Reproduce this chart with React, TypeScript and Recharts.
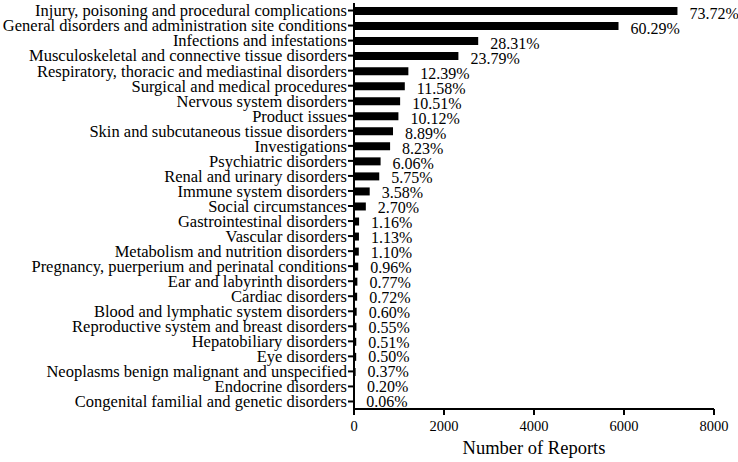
import React from "react";
import { Bar, BarChart, LabelList, XAxis, YAxis } from "recharts";

const categories = [
  "Injury, poisoning and procedural complications",
  "General disorders and administration site conditions",
  "Infections and infestations",
  "Musculoskeletal and connective tissue disorders",
  "Respiratory, thoracic and mediastinal disorders",
  "Surgical and medical procedures",
  "Nervous system disorders",
  "Product issues",
  "Skin and subcutaneous tissue disorders",
  "Investigations",
  "Psychiatric disorders",
  "Renal and urinary disorders",
  "Immune system disorders",
  "Social circumstances",
  "Gastrointestinal disorders",
  "Vascular disorders",
  "Metabolism and nutrition disorders",
  "Pregnancy, puerperium and perinatal conditions",
  "Ear and labyrinth disorders",
  "Cardiac disorders",
  "Blood and lymphatic system disorders",
  "Reproductive system and breast disorders",
  "Hepatobiliary disorders",
  "Eye disorders",
  "Neoplasms benign malignant and unspecified",
  "Endocrine disorders",
  "Congenital familial and genetic disorders",
];

const reports = [
  7188, 5878, 2760, 2320, 1208, 1129, 1025, 987, 867, 802, 591, 561, 349, 263,
  113, 110, 107, 94, 75, 70, 59, 54, 50, 49, 36, 20, 6,
];

const percents = [
  "73.72%", "60.29%", "28.31%", "23.79%", "12.39%", "11.58%", "10.51%", "10.12%",
  "8.89%", "8.23%", "6.06%", "5.75%", "3.58%", "2.70%", "1.16%", "1.13%", "1.10%",
  "0.96%", "0.77%", "0.72%", "0.60%", "0.55%", "0.51%", "0.50%", "0.37%", "0.20%",
  "0.06%",
];

const xTicks = [0, 2000, 4000, 6000, 8000];

const data = categories.map((name, i) => ({
  name,
  reports: reports[i],
  pct: percents[i],
}));

const font = "'Liberation Serif', 'Times New Roman', serif";

// percentage right of the bar end; top labels sit a bit low, bottom ones centred
const PctLabel = (props: any) => {
  const { x, y, width, height, value, index } = props;
  const drop = 3 * (1 - index / (categories.length - 1));
  return (
    <text
      x={x + width + 12}
      y={y + height / 2 + 5.3 + drop}
      fontSize={16}
      fontFamily={font}
      fill="#000"
    >
      {value}
    </text>
  );
};

export default function App() {
  return (
    <div
      style={{
        position: "absolute",
        left: 0,
        top: 0,
        width: 738,
        height: 462,
        background: "#fff",
      }}
    >
      <BarChart
        width={738}
        height={462}
        data={data}
        layout="vertical"
        margin={{ top: 3, right: 24, bottom: 0, left: 0 }}
        barCategoryGap={0}
      >
        <XAxis
          type="number"
          domain={[0, 8000]}
          ticks={xTicks}
          height={53}
          stroke="#000"
          strokeWidth={2}
          tickSize={6}
          tickMargin={6}
          tick={{ fontSize: 14.5, fill: "#000", fontFamily: font }}
          label={{
            value: "Number of Reports",
            position: "insideBottom",
            offset: 8,
            fontSize: 18.5,
            fill: "#000",
            fontFamily: font,
          }}
        />
        <YAxis
          type="category"
          dataKey="name"
          width={354}
          interval={0}
          stroke="#000"
          strokeWidth={2}
          tickSize={6}
          tickMargin={1}
          tick={{ fontSize: 16.5, fill: "#000", fontFamily: font }}
        />
        <Bar dataKey="reports" fill="#000" barSize={8} isAnimationActive={false}>
          <LabelList dataKey="pct" content={PctLabel} />
        </Bar>
      </BarChart>
    </div>
  );
}
